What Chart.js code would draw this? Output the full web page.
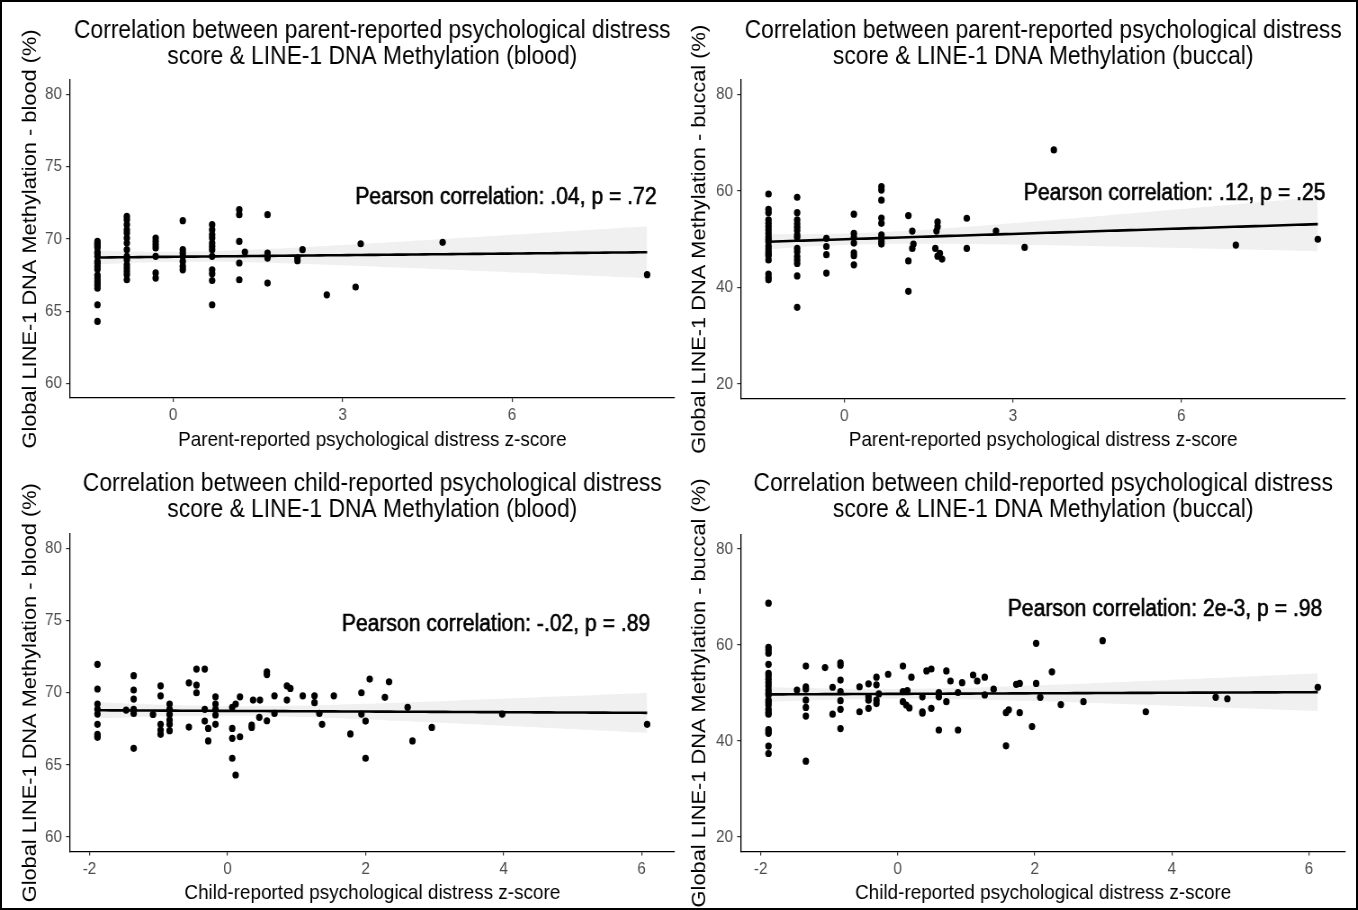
<!DOCTYPE html>
<html>
<head>
<meta charset="utf-8">
<script src="https://cdn.jsdelivr.net/npm/chart.js@4.4.1/dist/chart.umd.min.js"></script>
<style>
  html, body { margin: 0; padding: 0; background: #fff; }
  #sheet { position: relative; width: 1358px; height: 910px; overflow: hidden; background: #fff; }
  #sheet canvas { position: absolute; }
  #frame { position: absolute; left: 0; top: 0; width: 1358px; height: 910px; box-sizing: border-box;
           border: 2px solid #000; pointer-events: none; }
</style>
</head>
<body>
<div id="sheet">
  <canvas id="parentBlood"></canvas>
  <canvas id="parentBuccal"></canvas>
  <canvas id="childBlood"></canvas>
  <canvas id="childBuccal"></canvas>
  <div id="frame"></div>
</div>
<script>
"use strict";

// parent-reported distress z-score vs LINE-1 methylation in blood (%)
var parentBloodX = [
  -1.34, -1.34, -1.34, -1.34, -1.34, -1.34, -1.34, -1.34, -1.34, -1.34, -1.34, -1.34, -1.34, -1.34, -1.34, -1.34, -1.34, -1.34, -1.34, -1.34,
  -0.82, -0.82, -0.82, -0.82, -0.82, -0.82, -0.82, -0.82, -0.82, -0.82, -0.82, -0.82, -0.82, -0.82, -0.82,
  -0.31, -0.31, -0.31, -0.31, -0.31, -0.31, -0.31,
  0.17, 0.17, 0.17, 0.17, 0.17, 0.17, 0.17,
  0.69, 0.69, 0.69, 0.69, 0.69, 0.69, 0.69, 0.69, 0.69, 0.69, 0.69, 0.69,
  1.17, 1.17, 1.17, 1.17, 1.17, 1.27,
  1.67, 1.67, 1.67, 1.67,
  2.20, 2.20, 2.29,
  2.72, 3.23, 3.32, 4.77, 8.39
];
var parentBloodY = [
  69.83, 69.6, 69.4, 69.1, 68.8, 68.45, 68.1, 67.9, 67.5, 67.3, 67.1, 66.8, 66.6, 65.45, 64.3, 69.7, 68.3, 66.95, 69.5, 69.0,
  71.56, 71.34, 70.99, 70.64, 70.41, 70.07, 69.72, 69.26, 68.8, 68.57, 68.22, 67.99, 67.76, 67.53, 67.18,
  70.07, 69.83, 69.6, 69.38, 68.8, 67.65, 67.3,
  71.27, 69.26, 69.03, 68.8, 68.45, 68.1, 67.87,
  70.99, 70.64, 70.3, 70.07, 69.72, 69.49, 69.26, 68.8, 67.87, 67.6, 67.13, 65.45,
  72.03, 71.68, 69.83, 68.34, 67.18, 69.1,
  71.68, 69.03, 68.68, 66.95,
  68.5, 68.7, 69.26,
  66.14, 66.68, 69.67, 69.77, 67.53
];

// parent-reported distress z-score vs LINE-1 methylation in buccal cells (%)
var parentBuccalX = [
  -1.35, -1.35, -1.35, -1.35, -1.35, -1.35, -1.35, -1.35, -1.35, -1.35, -1.35, -1.35, -1.35, -1.35, -1.35, -1.35, -1.35, -1.35, -1.35, -1.35,
  -0.84, -0.84, -0.84, -0.84, -0.84, -0.84, -0.84, -0.84, -0.84, -0.84, -0.84, -0.84, -0.84, -0.84, -0.84,
  -0.32, -0.32, -0.32, -0.32,
  0.17, 0.17, 0.17, 0.17, 0.17, 0.17, 0.17,
  0.66, 0.66, 0.66, 0.66, 0.66, 0.66, 0.66, 0.66, 0.66,
  1.14, 1.14, 1.14, 1.21, 1.21, 1.23,
  1.62, 1.64, 1.66, 1.66, 1.66, 1.70, 1.74,
  2.18, 2.18, 2.70, 3.21, 3.73, 6.97, 8.43
];
var parentBuccalY = [
  59.38, 56.2, 55.5, 54.0, 53.3, 52.6, 51.9, 51.2, 50.5, 49.5, 48.6, 47.4, 46.6, 45.7, 42.8, 42.1, 41.6, 50.0, 48.0, 47.0,
  58.7, 55.5, 54.0, 53.2, 52.5, 51.8, 50.9, 50.4, 48.1, 47.4, 46.4, 45.7, 45.0, 42.4, 35.9,
  50.2, 48.5, 46.8, 43.0,
  55.2, 51.2, 50.4, 49.2, 47.2, 46.6, 44.7,
  60.9, 60.2, 58.1, 54.4, 53.3, 50.9, 50.2, 49.5, 49.0,
  54.9, 45.5, 39.2, 51.7, 48.1, 49.0,
  48.1, 51.7, 53.6, 52.6, 46.5, 47.1, 45.9,
  54.35, 48.1, 51.7, 48.3, 68.5, 48.8, 50.0
];

// child-reported distress z-score vs LINE-1 methylation in blood (%)
var childBloodX = [
  -1.885, -1.885, -1.885, -1.885, -1.885, -1.885, -1.885, -1.885, -1.885,
  -1.47,
  -1.36, -1.36, -1.36, -1.36, -1.36, -1.36,
  -1.08,
  -0.97, -0.97, -0.97, -0.97, -0.97,
  -0.84, -0.84, -0.84, -0.84, -0.84, -0.84,
  -0.56, -0.56,
  -0.45, -0.45, -0.45,
  -0.33, -0.33, -0.33,
  -0.28, -0.28,
  -0.175, -0.175, -0.175, -0.175, -0.175,
  0.068, 0.068, 0.068, 0.068,
  0.117, 0.117, 0.18, 0.18,
  0.35, 0.35, 0.37, 0.47, 0.46,
  0.57, 0.57, 0.57,
  0.68, 0.68,
  0.86, 0.86, 0.91,
  1.09, 1.26, 1.26, 1.33, 1.37, 1.54, 1.78,
  1.94, 1.94, 2.0, 2.0, 2.06,
  2.28, 2.34, 2.61, 2.68, 2.96, 3.98, 6.08
];
var childBloodY = [
  71.97, 70.26, 69.22, 68.85, 68.52, 67.81, 67.12, 67.0, 66.91,
  68.8,
  71.18, 70.19, 69.56, 68.85, 68.57, 66.15,
  68.5,
  70.48, 69.79, 67.81, 67.42, 67.12,
  69.22, 68.85, 68.5, 68.11, 67.81, 67.37,
  70.69, 67.62,
  71.64, 70.53, 70.0,
  71.64, 68.85, 68.04,
  67.53, 66.66,
  69.72, 69.22, 68.85, 68.46, 67.81,
  68.99, 67.53, 66.84, 65.46,
  69.22, 64.3, 69.72, 66.95,
  67.76, 67.6, 69.49, 69.49, 68.3,
  71.45, 71.26, 68.06,
  69.79, 68.57,
  70.48, 69.49, 70.3,
  69.79, 69.79, 69.31, 68.57, 67.81, 69.79, 67.15,
  70.0, 68.52, 68.04, 65.46, 70.95,
  69.68, 70.76, 68.99, 66.66, 67.6, 68.52, 67.81
];

// child-reported distress z-score vs LINE-1 methylation in buccal cells (%)
var childBuccalX = [
  -1.885, -1.885, -1.885, -1.885, -1.885, -1.885, -1.885, -1.885, -1.885, -1.885, -1.885, -1.885,
  -1.885, -1.885, -1.885, -1.885, -1.885, -1.885, -1.885, -1.885, -1.885, -1.885, -1.885, -1.885,
  -1.47,
  -1.34, -1.34, -1.34, -1.34, -1.34, -1.34, -1.34,
  -1.06, -0.95, -0.95,
  -0.835, -0.835, -0.835, -0.835, -0.835, -0.835, -0.835,
  -0.557, -0.557,
  -0.426, -0.426, -0.426, -0.426,
  -0.31, -0.31, -0.31, -0.31, -0.275, -0.14,
  0.076, 0.076, 0.076, 0.125, 0.17, 0.14, 0.2,
  0.36, 0.36, 0.36, 0.42, 0.49, 0.49,
  0.60, 0.60, 0.60, 0.71, 0.71, 0.77,
  0.88, 0.88, 0.94,
  1.10, 1.16, 1.27, 1.27, 1.40,
  1.58, 1.58, 1.62, 1.73, 1.78, 1.78,
  1.96, 2.02, 2.02, 2.08, 2.25, 2.38, 2.71, 2.99, 3.62, 4.64, 4.81, 6.13
];
var childBuccalY = [
  68.7, 59.5, 58.96, 58.3, 55.97, 54.1, 53.54, 52.85, 52.15, 51.46, 50.6, 49.6,
  48.5, 47.5, 46.6, 45.6, 42.4, 41.6, 38.96, 37.4, 50.0, 48.0, 46.0, 42.0,
  50.6,
  55.6, 51.3, 50.8, 48.5, 47.0, 45.2, 35.8,
  55.3, 51.2, 45.6,
  56.3, 55.8, 52.7, 50.3, 48.4, 46.6, 42.6,
  51.3, 46.1,
  51.9, 49.2, 48.5, 46.8,
  53.3, 51.7, 48.5, 47.8, 49.8, 53.9,
  55.6, 50.3, 48.2, 47.5, 46.9, 50.5, 53.3,
  49.2, 46.1, 45.8, 54.6, 55.0, 46.8,
  50.1, 49.2, 42.3, 54.6, 48.2, 52.5,
  50.1, 42.3, 52.15,
  53.75, 52.5, 53.3, 49.6, 50.8,
  45.9, 39.0, 46.5, 51.8, 52.0, 45.9,
  43.0, 60.35, 52.0, 49.1, 54.4, 47.6, 48.2, 60.9, 46.1, 49.1, 48.8, 51.2
];

// axis breaks and limits
var parentTicks = [0, 3, 6];
var childTicks = [-2, 0, 2, 4, 6];
var bloodTicks = [60, 65, 70, 75, 80];
var buccalTicks = [20, 40, 60, 80];
var bloodLimits = [60, 80];
var buccalLimits = [20, 80];

var pearsonNotes = [
  "Pearson correlation: .04, p = .72",
  "Pearson correlation: .12, p = .25",
  "Pearson correlation: -.02, p = .89",
  "Pearson correlation: 2e-3, p = .98"
];

var FONT = "'Liberation Sans', Arial, Helvetica, sans-serif";
// canvases are drawn wider and shown narrower, like the stretched export
var SQUASH = 0.9;

function expandRange(lo, hi) {
  var pad = (hi - lo) * 0.05;
  return [lo - pad, hi + pad];
}

// least squares line with a 95% confidence band, 80 steps across the data
function smoothLm(xs, ys) {
  var n = xs.length, mx = 0, my = 0, sxx = 0, sxy = 0, sse = 0, i;
  for (i = 0; i < n; i++) { mx += xs[i]; my += ys[i]; }
  mx /= n; my /= n;
  for (i = 0; i < n; i++) {
    sxx += (xs[i] - mx) * (xs[i] - mx);
    sxy += (xs[i] - mx) * (ys[i] - my);
  }
  var slope = sxy / sxx, icpt = my - slope * mx;
  for (i = 0; i < n; i++) {
    var r = ys[i] - (icpt + slope * xs[i]);
    sse += r * r;
  }
  var s = Math.sqrt(sse / (n - 2));
  var t = 1.96 + 2.4 / (n - 2);
  var lo = Math.min.apply(null, xs), hi = Math.max.apply(null, xs);
  var out = { line: [], upper: [], lower: [] };
  for (var k = 0; k < 80; k++) {
    var x = lo + (hi - lo) * k / 79;
    var yhat = icpt + slope * x;
    var se = s * Math.sqrt(1 / n + (x - mx) * (x - mx) / sxx);
    out.line.push({ x: x, y: yhat });
    out.upper.push({ x: x, y: yhat + t * se });
    out.lower.push({ x: x, y: yhat - t * se });
  }
  return out;
}

// the correlation label sits at a data position inside the panel
var notePlugin = {
  id: 'pearsonNote',
  afterDatasetsDraw: function (chart, args, opts) {
    var ctx = chart.ctx;
    var px = chart.scales.x.getPixelForValue(opts.x);
    var py = chart.scales.y.getPixelForValue(opts.y);
    ctx.save();
    ctx.font = opts.size + "px " + FONT;
    ctx.fillStyle = '#000';
    ctx.strokeStyle = '#000';
    ctx.lineWidth = 0.6;
    ctx.textAlign = 'center';
    ctx.textBaseline = 'middle';
    ctx.fillText(opts.text, px, py);
    ctx.strokeText(opts.text, px, py);
    ctx.restore();
  }
};

function buildPanel(p) {
  var canvas = document.getElementById(p.id);
  canvas.width = Math.round(p.width / SQUASH);
  canvas.height = p.height;
  canvas.style.left = p.left + 'px';
  canvas.style.top = p.top + 'px';
  canvas.style.width = p.width + 'px';
  canvas.style.height = p.height + 'px';

  var areaLeft = p.area.left / SQUASH;
  var areaRight = p.area.right / SQUASH;
  var xr = expandRange(Math.min.apply(null, p.x), Math.max.apply(null, p.x));
  var yr = expandRange(p.yLimits[0], p.yLimits[1]);
  var fit = smoothLm(p.x, p.y);
  var pts = p.x.map(function (v, i) { return { x: v, y: p.y[i] }; });

  var titleSize = 25.4, titleLh = 26;
  var axisSize = 21, axisLh = axisSize * 1.2;
  var yAxisSize = 21.8, yAxisLh = yAxisSize * 1.2;
  var tickFont = { family: FONT, size: 17 };

  return new Chart(canvas, {
    type: 'scatter',
    data: {
      datasets: [
        { type: 'line', data: fit.line, borderColor: '#000', borderWidth: 2.6, pointRadius: 0, fill: false, tension: 0 },
        { data: pts, pointRadius: 3.6, pointHoverRadius: 3.6, pointBackgroundColor: '#000', pointBorderWidth: 0 },
        { type: 'line', data: fit.upper, borderColor: 'rgba(0,0,0,0)', borderWidth: 0, pointRadius: 0,
          backgroundColor: '#f0f0f0', fill: '+1', tension: 0 },
        { type: 'line', data: fit.lower, borderColor: 'rgba(0,0,0,0)', borderWidth: 0, pointRadius: 0,
          fill: false, tension: 0 }
      ]
    },
    options: {
      responsive: false,
      animation: false,
      events: [],
      layout: { padding: { left: 0, top: 0, bottom: 0, right: canvas.width - areaRight } },
      plugins: {
        legend: { display: false },
        tooltip: { enabled: false },
        title: {
          display: true,
          fullSize: false,
          text: p.title,
          color: '#000',
          font: { family: FONT, size: titleSize, weight: 'normal', lineHeight: titleLh / titleSize },
          padding: { top: p.titleY - titleLh / 2, bottom: p.area.top - (p.titleY - titleLh / 2) - 2 * titleLh }
        },
        pearsonNote: { text: p.note, x: p.notePos.x, y: p.notePos.y, size: 23.5 }
      },
      scales: {
        x: {
          type: 'linear',
          min: xr[0],
          max: xr[1],
          afterBuildTicks: function (s) { s.ticks = p.xTicks.map(function (v) { return { value: v }; }); },
          afterFit: function (s) { s.height = p.height - p.area.bottom; },
          border: { display: true, color: '#000', width: 1.3 },
          grid: { drawOnChartArea: false, drawTicks: true, tickLength: 4, color: '#333', lineWidth: 1.2 },
          ticks: { color: '#4d4d4d', font: tickFont, padding: 3.5, maxRotation: 0, autoSkip: false },
          title: {
            display: true, text: p.xTitle, color: '#000',
            font: { family: FONT, size: axisSize },
            padding: { top: 0, bottom: p.height - p.xTitleY - axisLh / 2 }
          }
        },
        y: {
          type: 'linear',
          min: yr[0],
          max: yr[1],
          afterBuildTicks: function (s) { s.ticks = p.yTicks.map(function (v) { return { value: v }; }); },
          afterFit: function (s) { s.width = areaLeft; },
          border: { display: true, color: '#000', width: 1.3 },
          grid: { drawOnChartArea: false, drawTicks: true, tickLength: 4.4, color: '#333', lineWidth: 1.2 },
          ticks: { color: '#4d4d4d', font: tickFont, padding: 4.5, autoSkip: false },
          title: {
            display: true, text: p.yTitle, color: '#000',
            font: { family: FONT, size: yAxisSize },
            padding: { top: p.yTitleX / SQUASH - yAxisLh / 2, bottom: 0 }
          }
        }
      }
    },
    plugins: [notePlugin]
  });
}

var panels = [
  {
    id: 'parentBlood', left: 0, top: 0, width: 680, height: 455,
    x: parentBloodX, y: parentBloodY, xTicks: parentTicks, yTicks: bloodTicks, yLimits: bloodLimits,
    title: ["Correlation between parent-reported psychological distress", "score & LINE-1 DNA Methylation (blood)"],
    xTitle: "Parent-reported psychological distress z-score",
    yTitle: "Global LINE-1 DNA Methylation - blood (%)",
    note: pearsonNotes[0], notePos: { x: 5.89, y: 72.86 },
    area: { left: 70, right: 675, top: 80, bottom: 398 }, titleY: 31, xTitleY: 440, yTitleX: 31
  },
  {
    id: 'parentBuccal', left: 680, top: 0, width: 678, height: 455,
    x: parentBuccalX, y: parentBuccalY, xTicks: parentTicks, yTicks: buccalTicks, yLimits: buccalLimits,
    title: ["Correlation between parent-reported psychological distress", "score & LINE-1 DNA Methylation (buccal)"],
    xTitle: "Parent-reported psychological distress z-score",
    yTitle: "Global LINE-1 DNA Methylation - buccal (%)",
    note: pearsonNotes[1], notePos: { x: 5.88, y: 59.4 },
    area: { left: 61, right: 665, top: 80, bottom: 398.5 }, titleY: 31, xTitleY: 440, yTitleX: 20
  },
  {
    id: 'childBlood', left: 0, top: 455, width: 680, height: 455,
    x: childBloodX, y: childBloodY, xTicks: childTicks, yTicks: bloodTicks, yLimits: bloodLimits,
    title: ["Correlation between child-reported psychological distress", "score & LINE-1 DNA Methylation (blood)"],
    xTitle: "Child-reported psychological distress z-score",
    yTitle: "Global LINE-1 DNA Methylation - blood (%)",
    note: pearsonNotes[2], notePos: { x: 3.89, y: 74.76 },
    area: { left: 70, right: 675, top: 79, bottom: 396.5 }, titleY: 29, xTitleY: 438, yTitleX: 31
  },
  {
    id: 'childBuccal', left: 680, top: 455, width: 678, height: 455,
    x: childBuccalX, y: childBuccalY, xTicks: childTicks, yTicks: buccalTicks, yLimits: buccalLimits,
    title: ["Correlation between child-reported psychological distress", "score & LINE-1 DNA Methylation (buccal)"],
    xTitle: "Child-reported psychological distress z-score",
    yTitle: "Global LINE-1 DNA Methylation - buccal (%)",
    note: pearsonNotes[3], notePos: { x: 3.9, y: 67.3 },
    area: { left: 61, right: 665, top: 79.5, bottom: 396.5 }, titleY: 29, xTitleY: 438, yTitleX: 20
  }
];

panels.forEach(buildPanel);
</script>
</body>
</html>
